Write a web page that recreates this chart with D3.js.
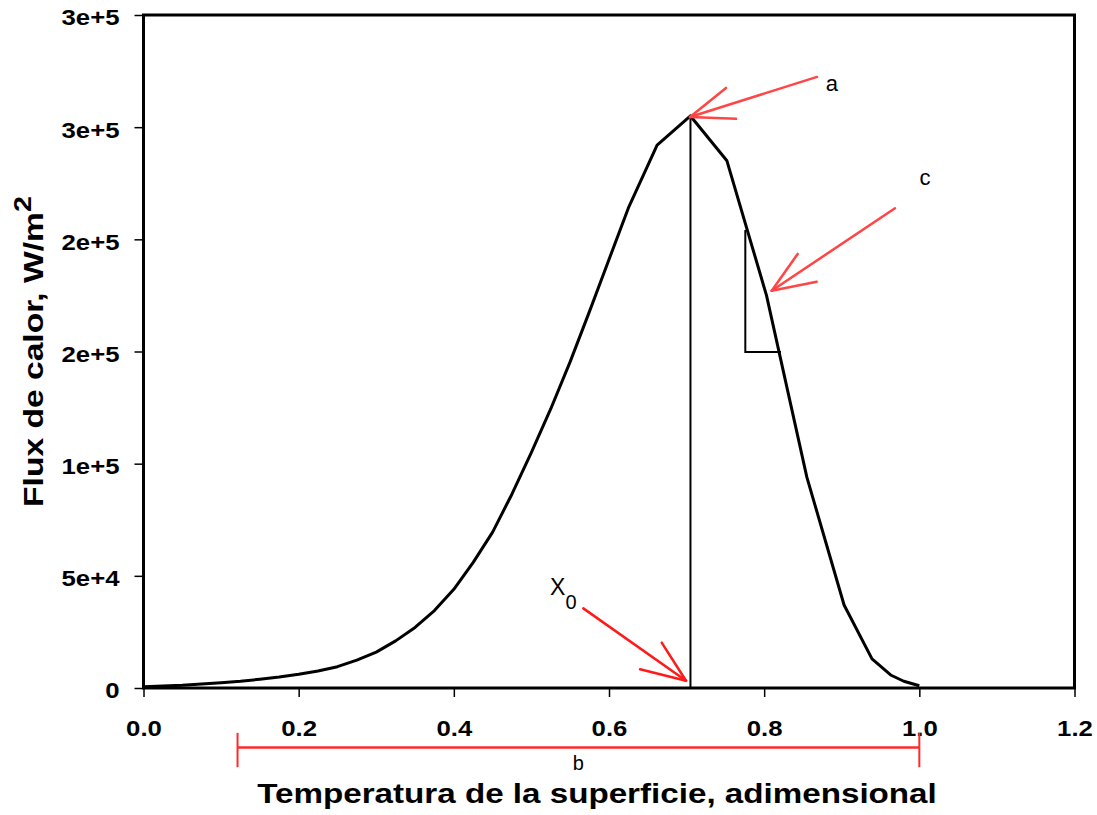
<!DOCTYPE html>
<html>
<head>
<meta charset="utf-8">
<script src="https://cdn.jsdelivr.net/npm/d3@7"></script>
<style>
  body { margin: 0; background: #fff; }
  text { font-family: Arial, "Liberation Sans", sans-serif; }
</style>
</head>
<body>
<div id="chart"></div>
<script>
// data
const tempVals = [0.0, 0.05, 0.1, 0.125, 0.15, 0.175, 0.2, 0.225, 0.25, 0.275, 0.3, 0.325, 0.35, 0.375,
                  0.4, 0.425, 0.45, 0.475, 0.5, 0.525, 0.55, 0.575, 0.6,
                  0.625, 0.662, 0.705, 0.752, 0.803, 0.855, 0.903, 0.939, 0.963, 0.98, 1.0];
const fluxVals = [600, 1200, 2300, 3000, 3900, 4900, 6100, 7600, 9500, 12400, 16000, 21000, 27000, 34500,
                  44000, 56000, 69500, 86500, 105000, 124500, 145500, 168000, 191000,
                  214000, 242000, 255000, 235000, 175000, 94000, 37000, 13000, 5800, 3000, 1000];

const xTicks = [0.0, 0.2, 0.4, 0.6, 0.8, 1.0, 1.2];
const yTicks = [0, 50000, 100000, 150000, 200000, 250000, 300000];
const yTickLabels = ["0", "5e+4", "1e+5", "2e+5", "2e+5", "3e+5", "3e+5"];

// annotations (data units)
const x0 = 0.705;
const slopeBox = [[0.7757, 204200], [0.7757, 149800], [0.8217, 149800]];
// [tail, tip, barb1, barb2]
const arrowA = [[0.8681, 272400], [0.7044, 254550], [0.7508, 267500], [0.7637, 253700]];
const arrowC = [[0.9686, 213850], [0.8097, 177100], [0.8432, 193500], [0.8677, 181100]];
const arrowX0 = [[0.5669, 35500], [0.6993, 3250], [0.6679, 20200], [0.6400, 8350]];
const rangeB = [0.1212, 1.0];

const width = 1097, height = 815;
const mLeft = 143.5, mRight = 1074.5, mTop = 15, mBottom = 688;
const stretch = 1.17; // the original lettering is a bit wide

const svg = d3.select("#chart").append("svg").attr("width", width).attr("height", height);

const x = d3.scaleLinear().domain([0, 1.2]).range([mLeft, mRight]);
const y = d3.scaleLinear().domain([0, 300000]).range([mBottom, mTop]);

// axes
const xAxis = svg.append("g").attr("transform", `translate(0,${mBottom})`)
    .call(d3.axisBottom(x).tickValues(xTicks).tickFormat(d3.format(".1f")).tickSize(9).tickPadding(23));
const yAxis = svg.append("g").attr("transform", `translate(${mLeft},0)`)
    .call(d3.axisLeft(y).tickValues(yTicks).tickFormat((d, i) => yTickLabels[i]).tickSize(9).tickPadding(15));

[xAxis, yAxis].forEach(a => {
    a.select(".domain").remove();
    a.selectAll(".tick line").attr("stroke", "#000").attr("stroke-width", 1.5);
    a.selectAll(".tick text").attr("fill", "#000").attr("font-size", "22px").attr("font-weight", "bold")
        .style("font-family", "Arial, 'Liberation Sans', sans-serif");
});
xAxis.selectAll(".tick text").attr("transform", `scale(${stretch},1)`);
yAxis.selectAll(".tick text").attr("dy", "0.45em")
    .attr("x", -24 / stretch).attr("transform", `scale(${stretch},1)`);

// frame
svg.append("rect").attr("x", mLeft).attr("y", mTop).attr("width", mRight - mLeft).attr("height", mBottom - mTop)
    .attr("fill", "none").attr("stroke", "#000").attr("stroke-width", 3);

// curve
const line = d3.line().x((d, i) => x(tempVals[i])).y(d => y(d));
svg.append("path").datum(fluxVals).attr("d", line)
    .attr("fill", "none").attr("stroke", "#000").attr("stroke-width", 3).attr("stroke-linejoin", "round");

// X0 vertical line
svg.append("line").attr("x1", x(x0)).attr("x2", x(x0)).attr("y1", y(0)).attr("y2", y(d3.max(fluxVals)))
    .attr("stroke", "#000").attr("stroke-width", 2);

// slope triangle
svg.append("path").datum(slopeBox)
    .attr("d", d3.line().x(d => x(d[0])).y(d => y(d[1])))
    .attr("fill", "none").attr("stroke", "#000").attr("stroke-width", 2);

// red arrows
function arrow(a, color) {
    const g = svg.append("g").attr("stroke", color).attr("stroke-width", 2.5).attr("stroke-linecap", "round");
    [[a[0], a[1]], [a[1], a[2]], [a[1], a[3]]].forEach(s => {
        g.append("line").attr("x1", x(s[0][0])).attr("y1", y(s[0][1]))
            .attr("x2", x(s[1][0])).attr("y2", y(s[1][1]));
    });
}
arrow(arrowA, "#ff4545");
arrow(arrowC, "#ff4545");
arrow(arrowX0, "#ff1a1a");

// b range bar
const barY = y(-26500);
svg.append("line").attr("x1", x(rangeB[0])).attr("x2", x(rangeB[1])).attr("y1", barY).attr("y2", barY)
    .attr("stroke", "#ff2a2a").attr("stroke-width", 2.5);
rangeB.forEach(v => {
    svg.append("line").attr("x1", x(v)).attr("x2", x(v)).attr("y1", y(-20000)).attr("y2", y(-35300))
        .attr("stroke", "#ff2a2a").attr("stroke-width", 2);
});

// labels
svg.append("text").attr("x", x(0.8874)).attr("y", y(266300)).attr("text-anchor", "middle")
    .attr("font-size", "22px").text("a");
svg.append("text").attr("x", x(1.0073)).attr("y", y(224300)).attr("text-anchor", "middle")
    .attr("font-size", "22px").text("c");
svg.append("text").attr("x", x((rangeB[0] + rangeB[1]) / 2)).attr("y", y(-36700)).attr("text-anchor", "middle")
    .attr("font-size", "20px").text("b");
const x0Label = svg.append("text").attr("x", x(0.524)).attr("y", y(41500)).attr("font-size", "23px");
x0Label.append("tspan").text("X");
x0Label.append("tspan").attr("dy", 14).attr("font-size", "20px").text("0");

// axis titles
svg.append("text").attr("transform", `translate(597,803) scale(${stretch + 0.015},1)`).attr("text-anchor", "middle")
    .attr("font-size", "28px").attr("font-weight", "bold")
    .text("Temperatura de la superficie, adimensional");

const yTitle = svg.append("text")
    .attr("transform", `translate(43,${(mTop + mBottom) / 2}) rotate(-90) scale(${stretch + 0.03},1)`)
    .attr("text-anchor", "middle").attr("font-size", "28px").attr("font-weight", "bold");
yTitle.append("tspan").text("Flux de calor, W/m");
yTitle.append("tspan").attr("dy", -12).attr("font-size", "24px").text("2");
</script>
</body>
</html>
